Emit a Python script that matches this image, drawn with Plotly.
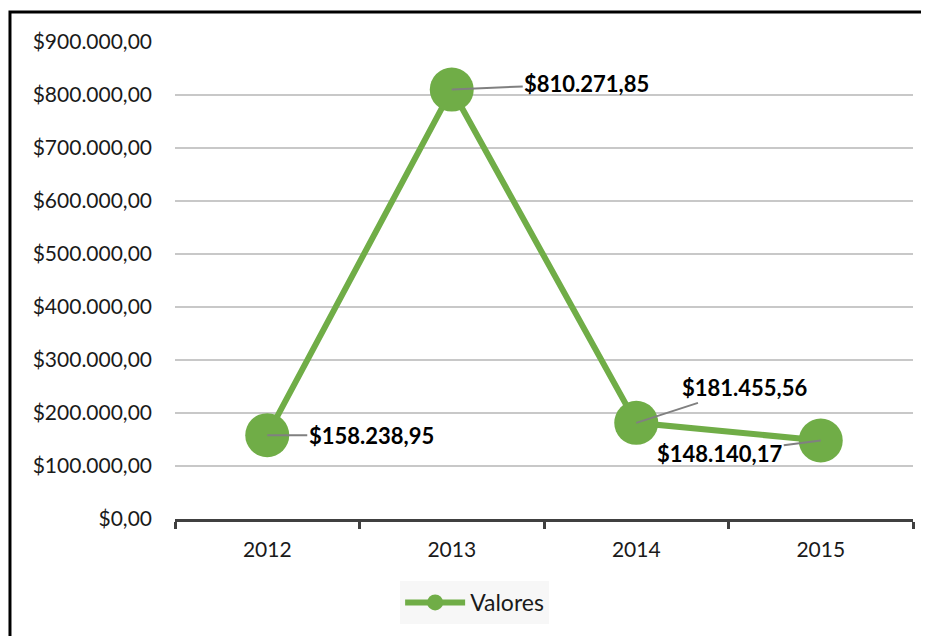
import plotly.graph_objects as go

years = ["2012", "2013", "2014", "2015"]
valores = [158238.95, 810271.85, 181455.56, 148140.17]
series_name = "Valores"

# label offsets (pixels) for data labels
label_dx = [104, 135, 108, -101]
label_dy = [0, -6, -35, 13]


def fmt(v):
    s = f"{v:,.2f}"
    s = s.replace(",", "X").replace(".", ",").replace("X", ".")
    return "$" + s


GREEN = "#70AD47"
FONT = "Lato, Open Sans, sans-serif"

fig = go.Figure()
fig.add_trace(go.Scatter(
    x=years, y=valores, mode="lines+markers", name=series_name,
    line=dict(color=GREEN, width=6),
    marker=dict(color=GREEN, size=44),
))

for i, (v, dx, dy) in enumerate(zip(valores, label_dx, label_dy)):
    fig.add_annotation(
        x=i, y=v, xref="x", yref="y", text="<b>" + fmt(v) + "</b>",
        showarrow=True, arrowhead=0,
        arrowcolor="#808080", arrowwidth=2, ax=dx, ay=dy,
        font=dict(family=FONT, size=22, color="#000000"),
    )

fig.add_shape(type="rect", xref="paper", yref="paper",
              x0=-0.2236, x1=1.2, y0=-0.4, y1=1.0629,
              line=dict(color="#000000", width=3), fillcolor="rgba(0,0,0,0)")

fig.update_layout(
    width=929, height=636,
    margin=dict(l=167, r=24, t=34, b=125),
    paper_bgcolor="white", plot_bgcolor="white",
    font=dict(family=FONT, size=21, color="#1a1a1a"),
    separators=",.",
    showlegend=True,
    legend=dict(orientation="h", x=0.406, xanchor="center", y=-0.13, yanchor="top",
                bgcolor="#f7f7f7", font=dict(size=23, color="#1a1a1a"),
                borderwidth=0, itemwidth=60),
)
fig.update_xaxes(
    type="category", range=[-0.5, 3.5],
    showline=True, linecolor="#404040", linewidth=3,
    ticks="outside", tickson="boundaries", ticklen=7, tickwidth=3, tickcolor="#404040",
    showgrid=False, ticklabelstandoff=10,
    tickfont=dict(size=21, color="#1a1a1a"),
)
fig.update_yaxes(
    range=[0, 900000], dtick=100000, tickprefix="$", tickformat=",.2f",
    showgrid=True, gridcolor="#c8c8c8", gridwidth=1.5,
    zeroline=False, showline=False, ticks="", ticklabelstandoff=22,
    tickfont=dict(size=21, color="#1a1a1a"),
)

fig.write_html("out.html")
